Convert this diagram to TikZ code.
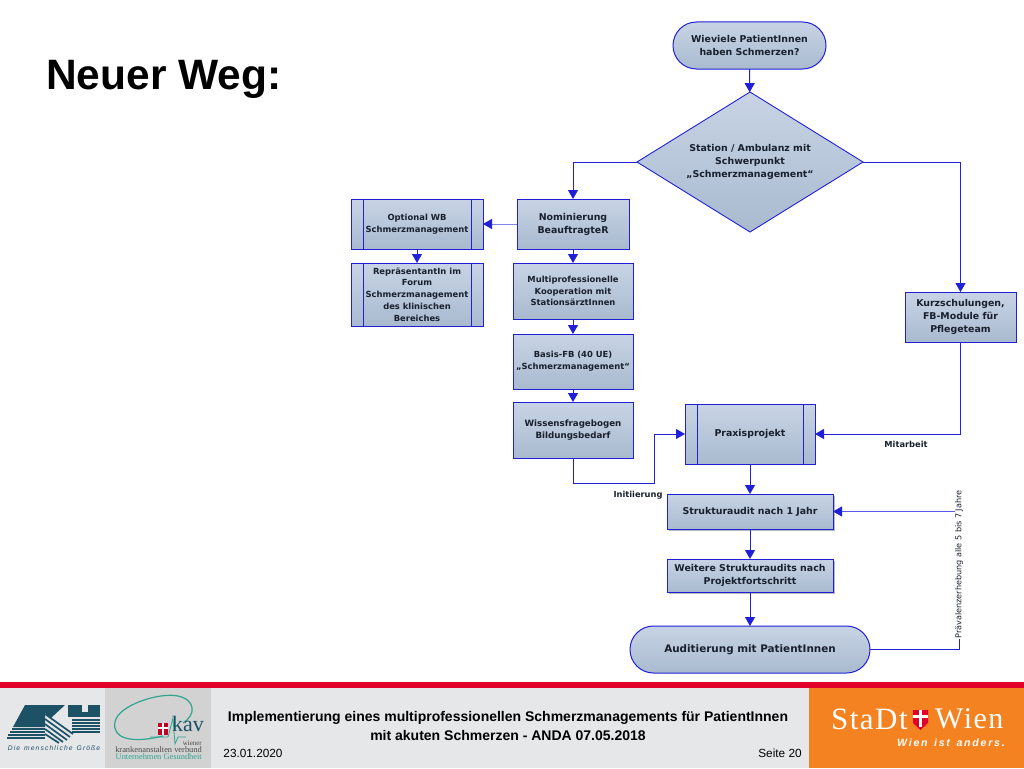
\documentclass[tikz,border=0pt]{standalone}
\usepackage{fontspec}
\setmainfont{Liberation Sans}
\setsansfont{DejaVu Sans}
\newfontfamily\serifwien{Liberation Serif}
\newfontfamily\serifwide[LetterSpace=5]{Liberation Serif}
\usetikzlibrary{shapes.geometric, shapes.misc, arrows.meta, positioning, calc, shadows}
\definecolor{FlowBlue}{HTML}{2020D8}
\definecolor{FlowTop}{HTML}{C8D4E5}
\definecolor{FlowBottom}{HTML}{A9BACF}
\definecolor{FlowText}{HTML}{18202E}
\definecolor{FooterGrey}{HTML}{E6E7E9}
\definecolor{KavGrey}{HTML}{D2D2D2}
\definecolor{KavGreen}{HTML}{2FA58E}
\definecolor{AkhTeal}{HTML}{1D5266}
\definecolor{WienOrange}{HTML}{F58220}
\definecolor{BandRed}{HTML}{E2002A}
\tikzset{
  % Box styles
  flowbox/.style={rectangle, draw=FlowBlue, line width=1pt, top color=FlowTop, bottom color=FlowBottom, outer sep=0pt, inner sep=1pt, text=FlowText, font=\sffamily\bfseries\fontsize{9.4}{13}\selectfont, align=center},
  subbox/.style={flowbox, path picture={
    \draw[FlowBlue, line width=1pt] ([xshift=12pt]path picture bounding box.north west) -- ([xshift=12pt]path picture bounding box.south west);
    \draw[FlowBlue, line width=1pt] ([xshift=-12pt]path picture bounding box.north east) -- ([xshift=-12pt]path picture bounding box.south east);}},
  endbox/.style={flowbox, rounded rectangle},
  decisionbox/.style={flowbox, diamond, aspect=1.61, inner sep=0pt, line width=0.9pt},
  shadowbox/.style={flowbox, drop shadow={shadow xshift=1.5pt, shadow yshift=-2pt, opacity=0.55}},
  % Font sizes for the narrower boxes
  smalltext/.style={font=\sffamily\bfseries\fontsize{8.4}{11.7}\selectfont},
  midtext/.style={font=\sffamily\bfseries\fontsize{8.7}{12}\selectfont},
  % Arrow styles
  arrow/.style={-{Triangle[length=9pt, width=10pt, color=FlowBlue]}, line width=1pt, FlowBlue},
  plainline/.style={line width=1pt, FlowBlue},
  % Label styles
  edgelabel/.style={text=FlowText, inner sep=0pt, font=\sffamily\bfseries\fontsize{8.3}{10}\selectfont},
  footertext/.style={inner sep=0pt, align=center, text=black, font=\fontsize{11.8}{14}\selectfont}
}
\begin{document}
\begin{tikzpicture}[x=1pt, y=-1pt]
  \useasboundingbox (0,0) rectangle (1024,768);

  % Footer
  \fill[FooterGrey] (0,688) rectangle (1024,768);
  \fill[KavGrey] (105,688) rectangle (211,768);
  \fill[WienOrange] (809,688) rectangle (1024,768);
  \fill[BandRed] (0,682) rectangle (1024,688);

  % AKH logo
  \fill[AkhTeal] (25,705) -- (45,705) -- (45,727) -- (13,727) -- cycle;
  \foreach \y/\x in {728/12,731/10,734/8,737/7} { \fill[AkhTeal] (\x,\y) rectangle (45,\y+1.7); }
  \fill[AkhTeal] (45,705) -- (65,705) -- (51,718) -- (45,713) -- cycle;
  \foreach \a/\b/\c/\d in {714/73/734/0,719/70/737/1,724/67/740/2,729/63/742/3,734/59/743/4} { \draw[AkhTeal, line width=1.7pt] (45,\a) -- (\b,\c); }
  \fill[AkhTeal] (68,705) rectangle (100,717);
  \fill[FooterGrey] (82,705) rectangle (88,712);
  \foreach \y in {719,722,725,728,731} { \fill[AkhTeal] (72,\y) rectangle (100,\y+1.7); }
  \node[inner sep=0pt, text=AkhTeal, font=\itshape\fontsize{6.7}{7}\selectfont] (akhtext) at (54,748) {D\,i\,e\, \,m\,e\,n\,s\,c\,h\,l\,i\,c\,h\,e\, \,G\,r\,ö\,ß\,e};

  % KAV logo
  \draw[KavGreen, line width=1.2pt] (163,736) .. controls (130,744) and (112,738) .. (115,722) .. controls (118,705) and (160,692) .. (178,696) .. controls (196,700) and (196,715) .. (183,723);
  \draw[KavGreen, line width=0.8pt] (150,737) -- (168,737) -- (173,718) -- (175,744) -- (178,737) -- (186,737);
  \fill[BandRed!85!black] (158,723) rectangle (168,735);
  \fill[white] (162,723) rectangle (164,735);
  \fill[white] (158,727) rectangle (168,729);
  \node[inner sep=0pt, text=AkhTeal, font=\serifwien\fontsize{22}{22}\selectfont] (kavname) at (188,724) {kav};
  \node[inner sep=0pt, anchor=east, text=black!70, font=\serifwien\fontsize{7}{8}\selectfont] (kavwiener) at (202,743) {wiener};
  \node[inner sep=0pt, anchor=east, text=black!70, font=\serifwien\fontsize{8.4}{8}\selectfont] (kavverbund) at (202,750) {krankenanstalten verbund};
  \node[inner sep=0pt, anchor=east, text=KavGreen, font=\serifwien\fontsize{8.4}{8}\selectfont] (kavunter) at (202,757) {Unternehmen Gesundheit};

  % Stadt Wien logo
  \node[inner sep=0pt, anchor=east, text=white, font=\serifwide\fontsize{31}{31}\selectfont] (stadt) at (908,719) {StaDt};
  \fill[BandRed] (913,710) -- (928,710) -- (928,723) -- (920.5,730) -- (913,723) -- cycle;
  \fill[white] (919,710) rectangle (922,727);
  \fill[white] (913,715) rectangle (928,718);
  \node[inner sep=0pt, anchor=west, text=white, font=\serifwide\fontsize{30}{30}\selectfont] (wien) at (935,719) {Wien};
  \node[inner sep=0pt, anchor=east, text=white, font=\itshape\bfseries\fontsize{10.6}{12}\selectfont] (anders) at (1005,743) {W\,i\,e\,n\, \,i\,s\,t\, \,a\,n\,d\,e\,r\,s\,.};

  % Footer texts
  \node[footertext, font=\bfseries\fontsize{14}{19}\selectfont] (footertitle) at (508,726) {Implementierung eines multiprofessionellen Schmerzmanagements für PatientInnen\\mit akuten Schmerzen - ANDA 07.05.2018};
  \node[footertext] (footerdate) at (253,753) {23.01.2020};
  \node[footertext] (footerpage) at (780,753) {Seite 20};

  % Title
  \node[inner sep=0pt, anchor=base west, font=\bfseries\fontsize{42.5}{50}\selectfont] (title) at (46,89) {Neuer Weg:};

  % Flow
  \node[endbox, minimum width=155pt, minimum height=47pt] (start) at (749.5,45.5) {Wieviele PatientInnen\\haben Schmerzen?};
  \node[decisionbox, minimum width=226pt, minimum height=140pt] (station) at (750,162) {Station / Ambulanz mit\\Schwerpunkt\\„Schmerzmanagement“};
  \node[flowbox, minimum width=112pt, minimum height=50pt] (nominierung) at (573,224) {Nominierung\\BeauftragteR};
  \node[subbox, smalltext, minimum width=132pt, minimum height=50pt] (optional) at (417,224) {Optional WB\\Schmerzmanagement};
  \node[subbox, smalltext, minimum width=132pt, minimum height=63pt, below=14pt of optional] (forum) {RepräsentantIn im\\Forum\\Schmerzmanagement\\des klinischen\\Bereiches};
  \node[flowbox, smalltext, minimum width=120pt, minimum height=56pt, below=14pt of nominierung] (kooperation) {Multiprofessionelle\\Kooperation mit\\StationsärztInnen};
  \node[flowbox, smalltext, minimum width=120pt, minimum height=55pt, below=15pt of kooperation] (basis) {Basis-FB (40 UE)\\„Schmerzmanagement“};
  \node[flowbox, midtext, minimum width=120pt, minimum height=56pt, below=13pt of basis] (wissen) {Wissensfragebogen\\Bildungsbedarf};
  \node[flowbox, minimum width=111pt, minimum height=50pt] (kurz) at (960.5,317) {Kurzschulungen,\\FB-Module für\\Pflegeteam};
  \node[subbox, minimum width=130pt, minimum height=60pt] (praxis) at (750,434) {Praxisprojekt};
  \node[shadowbox, minimum width=166pt, minimum height=35pt, below=30pt of praxis] (strukturaudit) {Strukturaudit nach 1 Jahr};
  \node[shadowbox, minimum width=166pt, minimum height=33pt, below=30pt of strukturaudit] (weitere) {Weitere Strukturaudits  nach\\Projektfortschritt};
  \node[endbox, font=\sffamily\bfseries\fontsize{10.4}{13}\selectfont, minimum width=242pt, minimum height=47pt, below=34pt of weitere] (audit) {Auditierung mit PatientInnen};

  % Labels
  \node[edgelabel] (mitarbeit) at (906,444) {Mitarbeit};
  \node[edgelabel] (initiierung) at (638,495) {Initiierung};
  \node[edgelabel, rotate=90, font=\sffamily\fontsize{8.1}{10}\selectfont] (praevalenz) at (959,564.5) {Prävalenzerhebung alle 5  bis 7 Jahre};

  % Connectors
  \draw[arrow] (start) -- (station);
  \draw[arrow] (station.west) -| (nominierung.north);
  \draw[arrow] (station.east) -| (kurz.north);
  \draw[arrow, FlowBlue!55] (nominierung) -- (optional);
  \draw[arrow] (optional) -- (forum);
  \draw[arrow] (nominierung) -- (kooperation);
  \draw[arrow] (kooperation) -- (basis);
  \draw[arrow] (basis) -- (wissen);
  \coordinate (wissenelbow) at ($(wissen.south)+(0,25)$);
  \draw[arrow] (wissen.south) -- (wissenelbow) -| ($(praxis.west)+(-31,0)$) -- (praxis.west);
  \draw[arrow] (kurz.south) |- (praxis.east);
  \draw[arrow] (praxis) -- (strukturaudit);
  \draw[arrow] (strukturaudit) -- (weitere);
  \draw[arrow] (weitere) -- (audit);
  \draw[plainline] (audit.east) -| (praevalenz.west);
  \draw[arrow, FlowBlue!75] (praevalenz.north |- strukturaudit.east) -- (strukturaudit.east);
\end{tikzpicture}
\end{document}
